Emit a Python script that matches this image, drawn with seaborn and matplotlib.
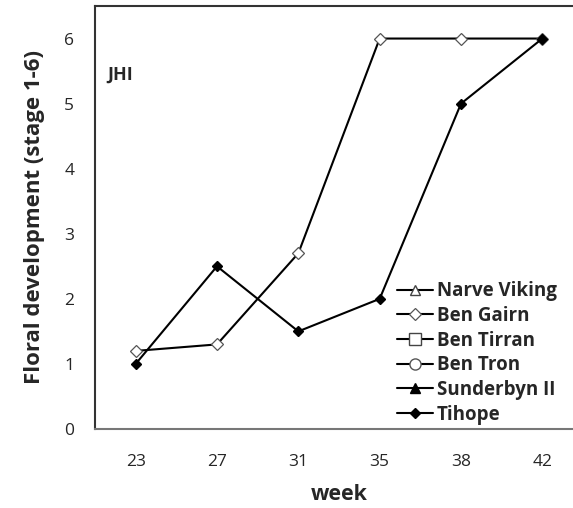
import matplotlib
matplotlib.use("Agg")
import matplotlib.pyplot as plt
import seaborn as sns
import numpy as np

weeks = ["23", "27", "31", "35", "38", "42"]
series_names = ["Narve Viking", "Ben Gairn", "Ben Tirran", "Ben Tron", "Sunderbyn II", "Tihope"]
ben_gairn = [1.2, 1.3, 2.7, 6.0, 6.0, 6.0]
tihope = [1.0, 2.5, 1.5, 2.0, 5.0, 6.0]
values = {
    "Narve Viking": [],
    "Ben Gairn": ben_gairn,
    "Ben Tirran": [],
    "Ben Tron": [],
    "Sunderbyn II": [],
    "Tihope": tihope,
}
markers = {
    "Narve Viking": dict(marker="^", mfc="white", mec="#444444", ms=7),
    "Ben Gairn": dict(marker="D", mfc="white", mec="#555555", ms=6.5, mew=0.9),
    "Ben Tirran": dict(marker="s", mfc="white", mec="#444444", ms=8),
    "Ben Tron": dict(marker="o", mfc="white", mec="#555555", ms=8),
    "Sunderbyn II": dict(marker="^", mfc="black", mec="black", ms=7),
    "Tihope": dict(marker="D", mfc="black", mec="black", ms=5),
}

sns.set_style("white")
plt.rcParams["font.family"] = ["Open Sans", "DejaVu Sans"]

fig = plt.figure(figsize=(5.73, 5.08), dpi=100)
W, H = 573, 508
left, right, top, bottom = 95, 583, 6, 429
ax = fig.add_axes([left / W, 1 - bottom / H, (right - left) / W, (bottom - top) / H])

pos = np.arange(len(weeks))
for name in series_names:
    vals = values[name]
    m = markers[name]
    if len(vals):
        sns.lineplot(x=pos, y=vals, ax=ax, color="black", linewidth=1.5,
                     marker=m["marker"], markersize=m["ms"],
                     markerfacecolor=m["mfc"], markeredgecolor=m["mec"],
                     markeredgewidth=m.get("mew", 1.0), label=name, zorder=3)
    else:
        ax.plot([], [], color="black", linewidth=1.5, marker=m["marker"],
                markersize=m["ms"], markerfacecolor=m["mfc"],
                markeredgecolor=m["mec"], markeredgewidth=1.0, label=name)

ax.set_xlim(-0.5, len(weeks) - 0.5)
ax.set_ylim(0, 6.5)
ax.set_xticks(pos)
ax.set_xticklabels(weeks)
ax.set_xticks(pos[:-1] + 0.5, minor=True)
ax.set_yticks(range(0, 7))
ax.tick_params(axis="x", which="major", length=0, pad=18, labelsize=12.5)
ax.tick_params(axis="x", which="minor", direction="in", length=6, color="#aaaaaa", width=1)
ax.tick_params(axis="y", which="major", direction="in", length=6, color="#bbbbbb",
               width=1, pad=15, labelsize=12.5)

for s in ["top", "left", "bottom", "right"]:
    ax.spines[s].set_color("#333333")
    ax.spines[s].set_linewidth(1.5)
ax.spines["bottom"].set_color("#777777")

ax.set_xlabel("week", fontsize=15.5, fontweight="bold", labelpad=10)
ax.set_ylabel("Floral development (stage 1-6)", fontsize=16, fontweight="bold", labelpad=14)

ax.text(0.025, 0.825, "JHI", transform=ax.transAxes, fontsize=13, fontweight="bold")

leg = ax.legend(loc="lower left", bbox_to_anchor=(0.6, -0.012), frameon=False,
                prop={"weight": "bold", "size": 13.5}, handlelength=1.9,
                handletextpad=0.2, labelspacing=0.25, borderpad=0)

fig.savefig("out.png", dpi=100)
